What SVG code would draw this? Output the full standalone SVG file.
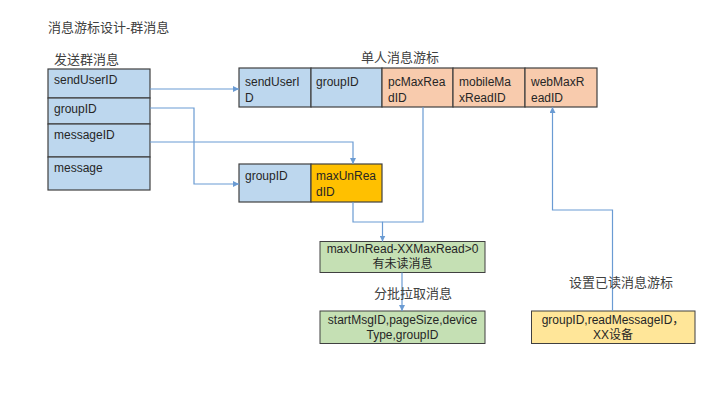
<svg xmlns="http://www.w3.org/2000/svg" width="720" height="405" viewBox="0 0 720 405">
<style>
.t{font-family:"Liberation Sans","Noto Sans CJK SC",sans-serif;font-size:12px;fill:#262626}
.h{font-family:"Liberation Sans","Noto Sans CJK SC",sans-serif;font-size:13px;fill:#404040}
.c{text-anchor:middle}
.blue{fill:#BDD7EE;stroke:#404040;stroke-width:1.2}
.org{fill:#F8CBAD;stroke:#404040;stroke-width:1.2}
.yel{fill:#FFC000;stroke:#404040;stroke-width:1.2}
.grn{fill:#C5E0B4;stroke:#404040;stroke-width:1}
.lyel{fill:#FFE699;stroke:#404040;stroke-width:1}
.ln{fill:none;stroke:#6A9BD3;stroke-width:1.2}
</style>
<defs>
<marker id="ah" markerUnits="userSpaceOnUse" markerWidth="7" markerHeight="6" refX="6" refY="3" orient="auto">
<path d="M0,0 L6,3 L0,6 Z" fill="#6A9BD3"/>
</marker>
</defs>
<rect width="720" height="405" fill="#fff"/>
<text class="h" x="48" y="32">消息游标设计-群消息</text>

<g id="send-msg">
<text class="h" x="54" y="64">发送群消息</text>
<rect class="blue" x="48" y="69" width="102" height="29"/>
<rect class="blue" x="48" y="98" width="102" height="26"/>
<rect class="blue" x="48" y="124" width="102" height="33"/>
<rect class="blue" x="48" y="157" width="102" height="33"/>
<text class="t" x="54" y="84">sendUserID</text>
<text class="t" x="54" y="113">groupID</text>
<text class="t" x="54" y="139">messageID</text>
<text class="t" x="54" y="172">message</text>
</g>

<g id="cursor">
<text class="h c" x="400" y="62">单人消息游标</text>
<rect class="blue" x="239" y="68" width="72" height="39"/>
<rect class="blue" x="311" y="68" width="71" height="39"/>
<rect class="org" x="382" y="68" width="71" height="39"/>
<rect class="org" x="453" y="68" width="72" height="39"/>
<rect class="org" x="525" y="68" width="72" height="39"/>
<text class="t" x="245" y="86">sendUserI</text><text class="t" x="245" y="102">D</text>
<text class="t" x="316" y="86">groupID</text>
<text class="t" x="388" y="86">pcMaxRea</text><text class="t" x="388" y="102">dID</text>
<text class="t" x="459" y="86">mobileMa</text><text class="t" x="459" y="102">xReadID</text>
<text class="t" x="531" y="86">webMaxR</text><text class="t" x="531" y="102">eadID</text>
</g>

<g id="unread">
<rect class="blue" x="239" y="164" width="72" height="38"/>
<rect class="yel" x="311" y="164" width="71" height="38"/>
<text class="t" x="245" y="180">groupID</text>
<text class="t" x="316" y="180">maxUnRea</text><text class="t" x="316" y="196">dID</text>
</g>

<g id="check">
<rect class="grn" x="320" y="241.5" width="165" height="31"/>
<text class="t c" x="402.5" y="253">maxUnRead-XXMaxRead&gt;0</text>
<text class="t c" x="402.5" y="268">有未读消息</text>
</g>

<g id="fetch">
<rect class="grn" x="320" y="311" width="165" height="32.5"/>
<text class="t c" x="402.5" y="323.5">startMsgID,pageSize,device</text>
<text class="t c" x="402.5" y="339">Type,groupID</text>
</g>

<g id="setread">
<rect class="lyel" x="531.5" y="311" width="163.5" height="32.5"/>
<text class="t c" x="613" y="323.5">groupID,readMessageID，</text>
<text class="t c" x="613" y="339">XX设备</text>
</g>

<g id="connectors">
<path class="ln" d="M150,89 H239" marker-end="url(#ah)"/>
<path class="ln" d="M150,108 H194 V184 H239" marker-end="url(#ah)"/>
<path class="ln" d="M150,142 H353 V164" marker-end="url(#ah)"/>
<path class="ln" d="M353,202 V222 H382.5 V241.5" marker-end="url(#ah)"/>
<path class="ln" d="M423,107 V222 H382.5"/>
<path class="ln" d="M402,272.5 V311" marker-end="url(#ah)"/>
<path class="ln" d="M612.5,311 V210 H552.5 V107" marker-end="url(#ah)"/>
<text class="h" x="374" y="298">分批拉取消息</text>
<text class="h" x="569" y="287">设置已读消息游标</text>
</g>
</svg>
